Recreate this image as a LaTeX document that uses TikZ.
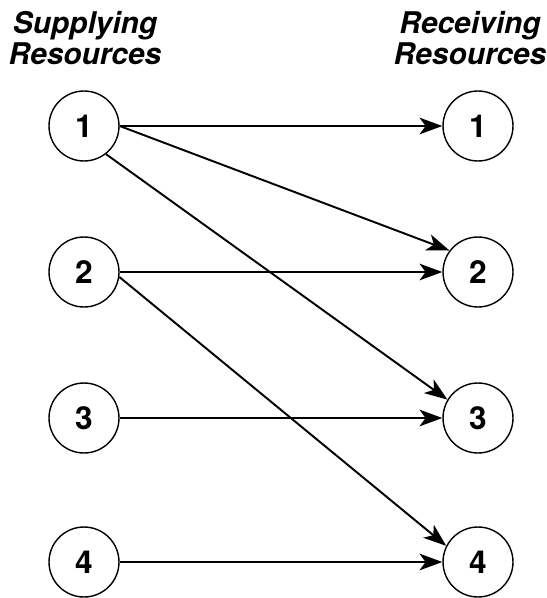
\documentclass[tikz,border=0pt]{standalone}
\usepackage{fontspec}
\setsansfont{TeX Gyre Heros}
\usetikzlibrary{arrows.meta}

\begin{document}
\begin{tikzpicture}[x=0.02cm,y=-0.02cm,>={Stealth[length=13pt,width=9.5pt,inset=3.5pt]},
  head/.style={anchor=north,align=center,inner sep=0pt,font=\sffamily\bfseries\itshape\fontsize{17}{17.5}\selectfont},
  res/.style={circle,draw,line width=0.8pt,minimum size=1.4cm,inner sep=0pt,font=\sffamily\bfseries\fontsize{18}{18}\selectfont},
  link/.style={->,line width=1.1pt}]
\useasboundingbox (0,0) rectangle (547,598);
\node[head] (sup) at (85,11) {Supplying\\Resources};
\node[head] (rec) at (470,11) {Receiving\\Resources};
\foreach \i/\y in {1/126,2/272,3/418,4/562}{
  \node[res] (s\i) at (84,\y) {\i};
  \node[res] (r\i) at (478,\y) {\i};
}
\foreach \i in {1,...,4}
  \draw[link] (s\i) -- (r\i);
\draw[link] (s1.east) -- (r2.143);
\draw[link] (s1.-52) -- (r3.149);
\draw[link] (s2.-8) -- (r4.153);
\end{tikzpicture}
\end{document}
